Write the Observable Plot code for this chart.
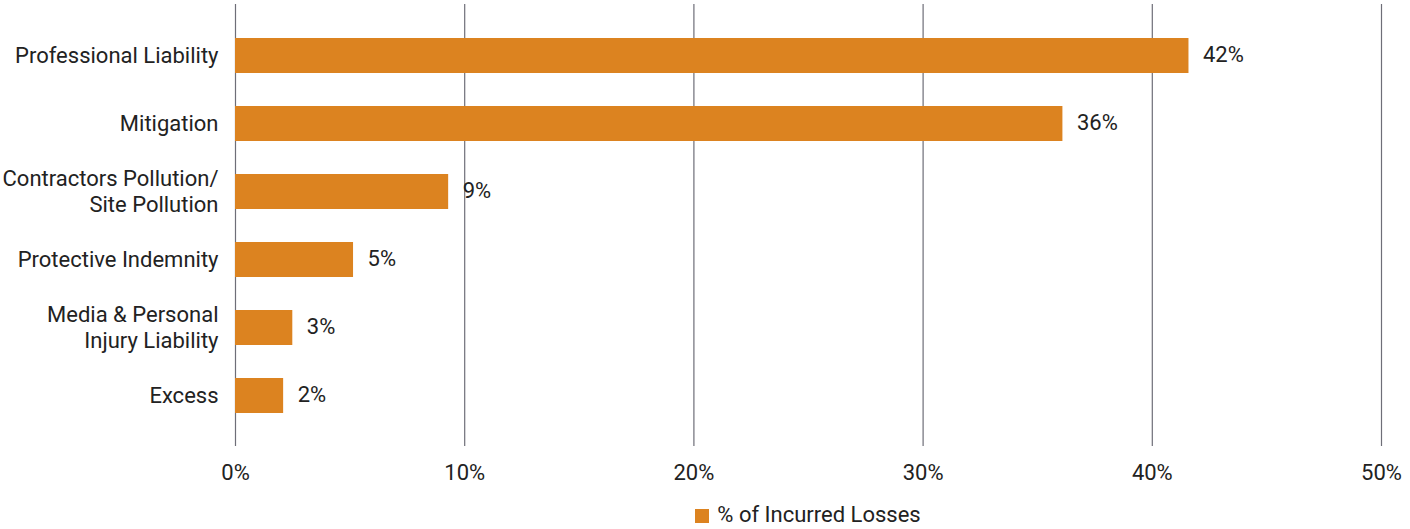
<!DOCTYPE html>
<html>
<head>
<meta charset="utf-8">
<script src="https://cdn.jsdelivr.net/npm/d3@7"></script>
<script src="https://cdn.jsdelivr.net/npm/@observablehq/plot@0.6"></script>
<style>
  html, body { margin: 0; padding: 0; background: #fff; }
  body { width: 1410px; height: 529px; overflow: hidden; font-family: Roboto, "Open Sans", sans-serif; color: #222; }
  #legend { margin-left: 235px; width: 1146px; text-align: center; font-size: 22px; line-height: 24px; margin-top: 3px; }
  #legend .sw { display: inline-block; width: 14px; height: 14px; background: #DC8320; margin-right: 8px; vertical-align: -1px; }
</style>
</head>
<body>
<div id="chart"></div>
<div id="legend"><span class="sw"></span>% of Incurred Losses</div>
<script>
const categories = [
  "Professional Liability",
  "Mitigation",
  "Contractors Pollution/\nSite Pollution",
  "Protective Indemnity",
  "Media & Personal\nInjury Liability",
  "Excess"
];
const values = [41.6, 36.1, 9.3, 5.15, 2.5, 2.1];
const valueLabels = ["42%", "36%", "9%", "5%", "3%", "2%"];
const xTicks = [0, 10, 20, 30, 40, 50];
const seriesName = "% of Incurred Losses";

const data = categories.map((c, i) => ({category: c, value: values[i], label: valueLabels[i]}));

const chart = Plot.plot({
  width: 1410,
  height: 500,
  marginLeft: 235,
  marginRight: 29,
  marginTop: 4,
  marginBottom: 54,
  style: {fontFamily: "Roboto, 'Open Sans', sans-serif", fontSize: "22px", color: "#222", background: "#fff"},
  x: {domain: [0, 50], ticks: xTicks, label: null},
  y: {domain: categories, paddingInner: 0.49, paddingOuter: 0.475, label: null},
  marks: [
    Plot.gridX(xTicks, {stroke: "#6e6e78", strokeOpacity: 1, strokeWidth: 1.2}),
    Plot.barX(data, {x: "value", y: "category", fill: "#DC8320"}),
    Plot.text(data, {x: "value", y: "category", text: "label", textAnchor: "start", dx: 14, dy: -1, fill: "#222", fontSize: 22}),
    Plot.axisX(xTicks, {tickSize: 0, tickPadding: 18, tickFormat: d => d + "%", fontSize: 22, fill: "#222", label: null}),
    Plot.axisY({tickSize: 0, tickPadding: 17, fontSize: 22, lineHeight: 1.15, fill: "#222", textAnchor: "end", dy: -1, label: null})
  ]
});
document.getElementById("chart").appendChild(chart);
</script>
</body>
</html>
